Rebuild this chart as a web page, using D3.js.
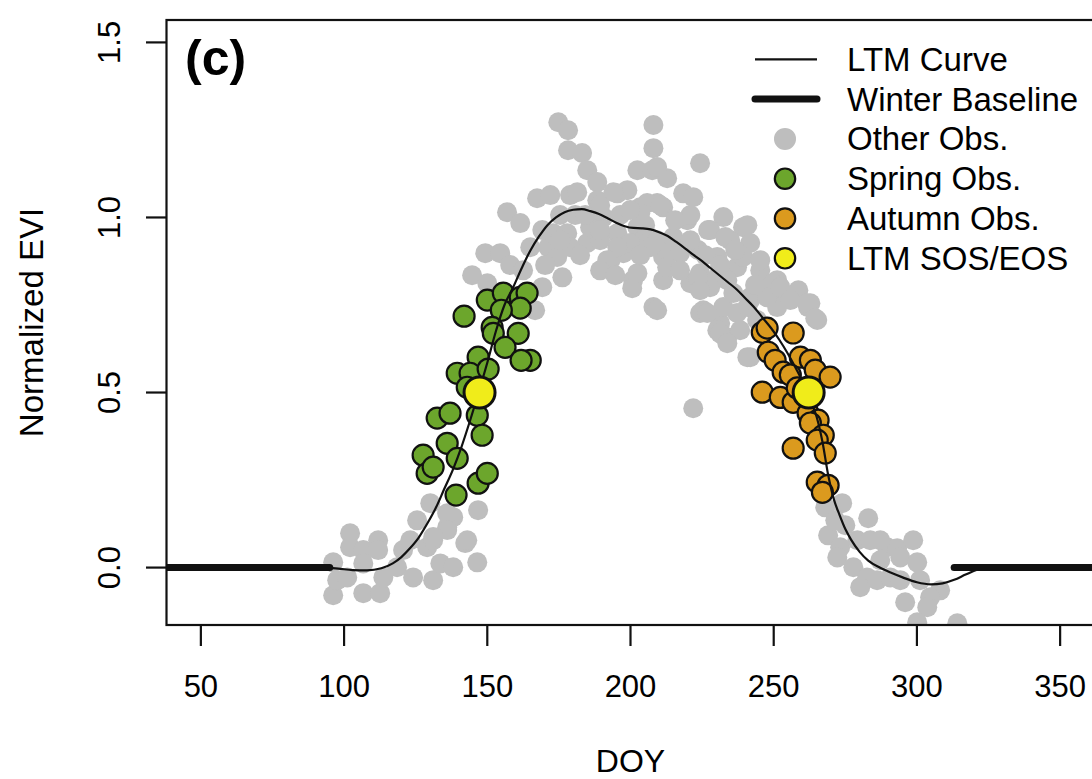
<!DOCTYPE html>
<html>
<head>
<meta charset="utf-8">
<script src="https://cdn.jsdelivr.net/npm/d3@7"></script>
<style>
  body { margin: 0; background: #fff; }
  svg { display: block; }
  text { font-family: "Liberation Sans", Arial, Helvetica, sans-serif; fill: #000; }
</style>
</head>
<body>
<div id="chart"></div>
<script>
// ---- data (DOY, normalized EVI) ----
const xTicks = [50, 100, 150, 200, 250, 300, 350];
const yTicks = [0.0, 0.5, 1.0, 1.5];

const otherObs = [
  [96.2,0.015],[96.2,-0.079],[97.6,-0.036],[102.1,0.098],[102.1,0.058],[106.7,0.050],
  [111.9,0.078],[111.9,0.050],[106.7,0.012],[101.1,-0.028],[106.7,-0.073],[112.6,-0.073],
  [113.7,-0.028],[118.5,0.001],[120.6,0.050],[124.1,-0.028],[131.1,-0.036],[125.5,0.135],
  [129.0,0.058],[131.1,0.078],[133.6,0.012],[138.1,0.001],[142.3,0.070],[146.5,0.015],
  [136.0,0.115],[138.1,0.144],[130.1,0.184],[146.8,0.164],[136.0,0.155],[136.0,0.107],
  [143.0,0.078],[131.1,0.087],[123.1,0.078],
  [174.8,1.272],[178.2,1.249],[178.2,1.192],[183.1,1.184],[184.9,1.135],[188.4,1.101],
  [167.4,1.055],[172.0,1.064],[178.9,1.064],[181.4,1.072],[156.9,1.015],[161.5,0.984],
  [169.2,0.964],[165.0,0.915],[171.3,0.915],[149.3,0.898],[154.5,0.898],[158.0,0.864],
  [162.5,0.849],[144.7,0.835],[150.0,0.812],[176.2,0.829],[169.2,0.801],[166.7,0.735],
  [177.9,0.955],[184.9,0.927],[178.9,0.915],[174.4,0.887],[193.0,0.878],[197.5,0.898],
  [195.4,1.069],[198.9,1.078],[202.4,1.135],[208.0,1.264],[208.0,1.198],[207.6,1.135],
  [212.8,1.112],[203.4,1.029],[209.3,1.041],[200.9,0.821],[208.0,0.744],[211.4,0.821],
  [190.5,1.001],[185.9,0.972],[195.4,0.955],[202.4,0.972],[204.4,0.935],[199.9,0.927],
  [209.3,0.935],[188.4,1.049],[211.4,0.887],[195.4,0.915],[224.3,1.155],[194.0,1.072],
  [218.4,1.069],[221.9,1.058],[205.8,1.041],[211.4,1.029],[203.4,1.012],[232.4,1.001],
  [239.3,0.972],[173.0,0.955],[191.9,0.878],[206.9,0.915],[212.8,0.927],[219.8,0.992],
  [227.8,0.964],[234.8,0.935],[217.3,0.898],[224.3,0.841],[230.3,0.829],[237.2,0.858],
  [246.4,0.812],[251.2,0.772],[258.6,0.792],[262.0,0.744],[265.2,0.707],[200.6,0.798],
  [225.4,0.735],[231.3,0.698],[237.2,0.727],[241.8,0.601],[233.8,0.658],[244.2,0.707],
  [227.8,0.801],[212.8,0.858],[220.9,0.812],[202.4,0.841],[241.8,0.772],[251.2,0.821],
  [209.3,1.144],[210.4,1.035],[220.9,1.007],[240.8,0.978],[227.1,0.964],[214.9,0.944],
  [233.1,0.944],[241.8,0.927],[223.6,0.907],[230.3,0.887],[239.3,0.887],[245.3,0.849],
  [223.6,0.829],[233.8,0.821],[249.8,0.812],[262.8,0.755],[209.3,0.735],[224.3,0.727],
  [232.4,0.744],[240.8,0.744],[251.2,0.744],[230.3,0.678],[238.3,0.678],[226.8,0.727],
  [235.9,0.784],[241.8,0.764],[247.7,0.772],[252.3,0.801],[261.7,0.755],[264.5,0.712],
  [231.3,0.669],[233.8,0.641],[240.8,0.601],[221.9,0.455],
  [189.4,0.935],[196.4,1.007],[205.1,0.978],[215.6,0.992],[189.4,0.849],[194.7,0.835],
  [182.4,0.892],[180.7,1.007],[175.4,1.007],[170.2,0.864],[189.4,1.035],[199.9,1.021],
  [226.1,0.892],[236.6,0.907],[245.3,0.878],[243.5,0.807],[255.8,0.764],
  [189.4,0.964],[175.4,0.935],[184.2,1.007],[203.4,0.892],[217.3,0.849],[224.3,0.792],
  [231.3,0.864],[220.9,0.935],
  [273.9,0.184],[268.0,0.172],[283.0,0.141],[269.0,0.092],[273.2,0.058],[279.2,0.078],
  [283.7,0.078],[289.6,0.058],[293.1,0.055],[298.7,0.078],[272.2,0.029],[277.8,0.001],
  [287.2,0.021],[294.2,0.029],[300.1,0.015],[282.6,-0.028],[280.2,-0.056],[286.1,-0.036],
  [290.7,-0.028],[294.2,-0.036],[301.1,-0.036],[308.1,-0.065],[304.6,-0.085],[295.9,-0.099],
  [303.6,-0.113],[300.1,-0.156],[314.1,-0.159],[287.2,0.078],[275.0,0.121],[271.5,0.135]
];

const springObs = [
  [141.9,0.718],[150.0,0.764],[155.6,0.784],[161.5,0.772],[163.9,0.784],[161.5,0.741],
  [154.9,0.735],[151.7,0.686],[152.1,0.669],[160.8,0.669],[156.2,0.629],[146.8,0.601],
  [165.0,0.592],[161.8,0.592],[139.5,0.555],[144.0,0.555],[150.3,0.567],[143.0,0.515],
  [132.5,0.427],[137.0,0.441],[146.5,0.435],[148.2,0.378],[136.0,0.355],[139.5,0.312],
  [127.6,0.321],[129.0,0.269],[131.1,0.287],[146.8,0.241],[150.0,0.269],[139.1,0.207]
];

const autumnObs = [
  [246.0,0.672],[247.7,0.684],[256.8,0.670],[248.1,0.615],[250.5,0.592],[253.3,0.558],
  [259.3,0.601],[262.8,0.592],[264.5,0.564],[269.7,0.544],[246.0,0.501],[252.3,0.486],
  [256.8,0.472],[262.0,0.441],[265.5,0.421],[262.8,0.413],[267.3,0.378],[265.2,0.364],
  [256.8,0.341],[268.0,0.327],[265.2,0.244],[269.0,0.235],[267.0,0.215],[255.8,0.550],
  [258.2,0.513]
];

const ltmSosEos = [[147.3,0.5],[262.2,0.5]];

const ltmCurve = [
  [93,0],[98,-0.003],[103,-0.007],[108,-0.008],[113,-0.002],[117,0.012],[120,0.03],
  [123,0.055],[126,0.085],[129,0.125],[132,0.17],[135,0.225],[138,0.28],[141,0.345],
  [144,0.42],[147,0.5],[150,0.585],[153,0.675],[156,0.75],[159,0.8],[162,0.855],
  [165,0.905],[168,0.945],[171,0.978],[174,1.0],[177,1.015],[180,1.022],[183,1.024],
  [186,1.018],[189,1.01],[192,0.998],[195,0.985],[198,0.975],[201,0.97],[204,0.969],
  [207,0.966],[210,0.958],[213,0.947],[216,0.93],[219,0.912],[222,0.893],[225,0.875],
  [228,0.855],[231,0.835],[234,0.815],[237,0.795],[240,0.77],[243,0.745],[246,0.715],
  [249,0.685],[252,0.65],[255,0.61],[258,0.565],[261,0.515],[263,0.475],[265,0.43],
  [267,0.36],[269,0.265],[271,0.195],[273,0.15],[275,0.11],[277,0.08],[280,0.045],
  [283,0.02],[287,0.0],[291,-0.015],[295,-0.028],[300,-0.042],[305,-0.048],[309,-0.045],
  [313,-0.035],[317,-0.02],[321,-0.006],[324,0]
];

const winterBaseline = [[[1,0],[95,0]], [[313,0],[366,0]]];

const legendLabels = ["LTM Curve", "Winter Baseline", "Other Obs.", "Spring Obs.", "Autumn Obs.", "LTM SOS/EOS"];

// ---- drawing ----
const width = 1092, height = 779;
const colGray = "#bebebe", colSpring = "#6ca62c", colAutumn = "#db9a1e", colSos = "#f0ec1a";

const svg = d3.select("#chart").append("svg")
  .attr("width", width)
  .attr("height", height);

const x = d3.scaleLinear().domain([38, 362]).range([166.5, 1094.5]);
const y = d3.scaleLinear().domain([-0.164, 1.564]).range([625, 20]);

svg.append("clipPath").attr("id", "plotclip")
  .append("rect")
  .attr("x", x.range()[0]).attr("y", y.range()[1])
  .attr("width", x.range()[1] - x.range()[0])
  .attr("height", y.range()[0] - y.range()[1]);

const plot = svg.append("g").attr("clip-path", "url(#plotclip)");

plot.selectAll("circle.other")
  .data(otherObs)
  .enter()
  .append("circle")
  .attr("class", "other")
  .attr("cx", d => x(d[0]))
  .attr("cy", d => y(d[1]))
  .attr("r", 10)
  .attr("fill", colGray);

function obsDots(data, cls, fill, r, sw) {
  plot.selectAll("circle." + cls)
    .data(data)
    .enter()
    .append("circle")
    .attr("class", cls)
    .attr("cx", d => x(d[0]))
    .attr("cy", d => y(d[1]))
    .attr("r", r)
    .attr("fill", fill)
    .attr("stroke", "#111")
    .attr("stroke-width", sw);
}
obsDots(springObs, "spring", colSpring, 10.5, 2.2);
obsDots(autumnObs, "autumn", colAutumn, 10.5, 2.2);

const line = d3.line()
  .x(d => x(d[0]))
  .y(d => y(d[1]))
  .curve(d3.curveMonotoneX);

plot.append("path")
  .attr("d", line(ltmCurve))
  .attr("fill", "none")
  .attr("stroke", "#111")
  .attr("stroke-width", 2.2);

winterBaseline.forEach(seg => {
  plot.append("path")
    .attr("d", d3.line().x(d => x(d[0])).y(d => y(d[1]))(seg))
    .attr("fill", "none")
    .attr("stroke", "#111")
    .attr("stroke-width", 7)
    .attr("stroke-linecap", "round");
});

obsDots(ltmSosEos, "sos", colSos, 15.5, 3);

// box
svg.append("rect")
  .attr("x", x.range()[0]).attr("y", y.range()[1])
  .attr("width", x.range()[1] - x.range()[0])
  .attr("height", y.range()[0] - y.range()[1])
  .attr("fill", "none")
  .attr("stroke", "#111")
  .attr("stroke-width", 2.2);

// x axis
const xAxis = svg.append("g");
xAxis.selectAll("line")
  .data(xTicks).enter().append("line")
  .attr("x1", d => x(d)).attr("x2", d => x(d))
  .attr("y1", 625).attr("y2", 646)
  .attr("stroke", "#111").attr("stroke-width", 2.2);
xAxis.selectAll("text")
  .data(xTicks).enter().append("text")
  .attr("x", d => x(d)).attr("y", 697)
  .attr("text-anchor", "middle")
  .attr("font-size", 31)
  .text(d => d);

// y axis
const yAxis = svg.append("g");
yAxis.selectAll("line")
  .data(yTicks).enter().append("line")
  .attr("x1", 146).attr("x2", 166.5)
  .attr("y1", d => y(d)).attr("y2", d => y(d))
  .attr("stroke", "#111").attr("stroke-width", 2.2);
yAxis.selectAll("text")
  .data(yTicks).enter().append("text")
  .attr("transform", d => `translate(120,${y(d)}) rotate(-90)`)
  .attr("text-anchor", "middle")
  .attr("font-size", 31)
  .text(d => d3.format(".1f")(d));

svg.append("text")
  .attr("x", (x.range()[0] + x.range()[1]) / 2)
  .attr("y", 772)
  .attr("text-anchor", "middle")
  .attr("font-size", 32)
  .text("DOY");

svg.append("text")
  .attr("transform", `translate(43,${(y.range()[0] + y.range()[1]) / 2}) rotate(-90)`)
  .attr("text-anchor", "middle")
  .attr("font-size", 33)
  .text("Normalized EVI");

svg.append("text")
  .attr("x", 185).attr("y", 75)
  .attr("font-size", 50)
  .attr("font-weight", "bold")
  .text("(c)");

// legend
const lg = svg.append("g");
const rowY = i => 59.3 + i * 39.8;
lg.append("line")
  .attr("x1", 755).attr("x2", 817).attr("y1", rowY(0)).attr("y2", rowY(0))
  .attr("stroke", "#111").attr("stroke-width", 2.2);
lg.append("line")
  .attr("x1", 755).attr("x2", 817).attr("y1", rowY(1)).attr("y2", rowY(1))
  .attr("stroke", "#111").attr("stroke-width", 7).attr("stroke-linecap", "round");
lg.append("circle").attr("cx", 785).attr("cy", rowY(2)).attr("r", 11).attr("fill", colGray);
[colSpring, colAutumn, colSos].forEach((c, i) => {
  lg.append("circle")
    .attr("cx", 785).attr("cy", rowY(i + 3)).attr("r", 10.2)
    .attr("fill", c).attr("stroke", "#111").attr("stroke-width", 2.2);
});
lg.selectAll("text")
  .data(legendLabels).enter().append("text")
  .attr("x", 847)
  .attr("y", (d, i) => rowY(i) + 11.5)
  .attr("font-size", 33)
  .text(d => d);
</script>
</body>
</html>
